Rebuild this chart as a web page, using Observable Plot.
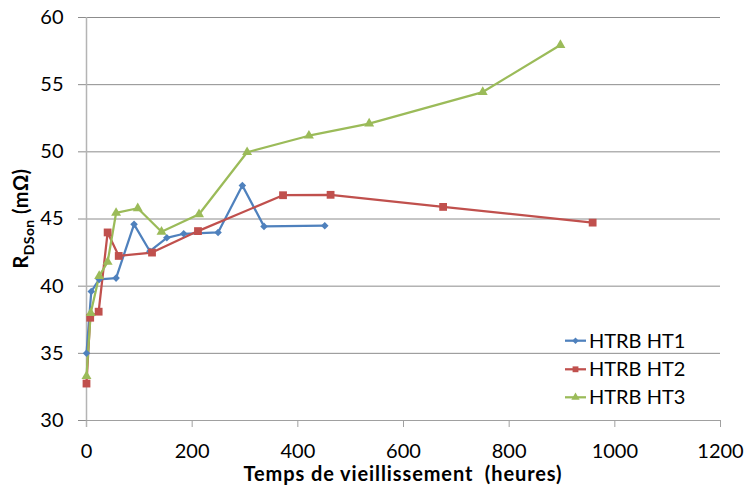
<!DOCTYPE html>
<html>
<head>
<meta charset="utf-8">
<script src="https://cdn.jsdelivr.net/npm/d3@7"></script>
<script src="https://cdn.jsdelivr.net/npm/@observablehq/plot@0.6"></script>
<style>
  html, body { margin: 0; padding: 0; background: #fff; }
  #chart { width: 744px; height: 487px; }
</style>
</head>
<body>
<div id="chart"></div>
<script>
// ---- data ----
const seriesNames = ["HTRB HT1", "HTRB HT2", "HTRB HT3"];
const seriesColors = ["#4F81BD", "#C0504D", "#9BBB59"];
const seriesSymbols = ["diamond2", "square", "triangle"];
const seriesR = [3.4, 4.4, 3.7];

const hoursHT1 = [0, 9, 24, 56, 90, 120, 152, 184, 249, 295, 336, 451];
const rdsonHT1 = [35.0, 39.6, 40.5, 40.6, 44.6, 42.6, 43.6, 43.9, 44.0, 47.5, 44.45, 44.5];

const hoursHT2 = [0, 7, 23, 40, 61, 124, 211, 372, 462, 675, 958];
const rdsonHT2 = [32.75, 37.65, 38.1, 44.0, 42.25, 42.5, 44.1, 46.77, 46.8, 45.9, 44.73];

const hoursHT3 = [0, 8, 24, 40, 56, 97, 142, 213, 304, 421, 535, 750, 897];
const rdsonHT3 = [33.3, 38.0, 40.75, 41.8, 45.45, 45.8, 44.05, 45.35, 49.97, 51.2, 52.1, 54.45, 57.95];

const xTicks = [0, 200, 400, 600, 800, 1000, 1200];
const yTicks = [30, 35, 40, 45, 50, 55, 60];
const xTitle = "Temps de vieillissement\u00a0 (heures)";
const yTitleMain = "R";
const yTitleSub = "DSon";
const yTitleUnit = " (m\u03A9)";

// ---- build table ----
const hoursAll = [hoursHT1, hoursHT2, hoursHT3];
const rdsonAll = [rdsonHT1, rdsonHT2, rdsonHT3];
const rows = [];
seriesNames.forEach((s, i) => {
  hoursAll[i].forEach((h, j) => rows.push({series: s, h, r: rdsonAll[i][j]}));
});

const W = 744, H = 487;
const mL = 86, mR = 24, mT = 17, mB = 67;
const FONT = "Lato, 'Open Sans', sans-serif";

const dotMarks = seriesNames.map((s, i) =>
  Plot.dot(rows.filter(d => d.series === s), {
    x: "h", y: "r", symbol: () => seriesSymbols[i], r: seriesR[i],
    fill: seriesColors[i], stroke: "none"
  })
);

const chart = Plot.plot({
  width: W, height: H,
  marginLeft: mL, marginRight: mR, marginTop: mT, marginBottom: mB,
  x: {domain: [0, 1200]},
  y: {domain: [30, 60]},
  color: {domain: seriesNames, range: seriesColors},
  symbol: {domain: seriesNames, range: seriesSymbols},
  style: {fontFamily: FONT, fontSize: "20px", color: "#000", background: "#fff", overflow: "visible"},
  marks: [
    Plot.gridY(yTicks, {stroke: "#8c8c8c", strokeOpacity: 1, strokeWidth: 1}),
    Plot.axisY(yTicks, {tickSize: 8, tickPadding: 15, stroke: "#8c8c8c", strokeOpacity: 1, label: null, fill: "#000", fontSize: 20, tickFormat: d => String(d)}),
    Plot.axisX(xTicks, {tickSize: 7, tickPadding: 16, stroke: "#a0a0a0", strokeOpacity: 1, label: null, fill: "#000", fontSize: 20, tickFormat: d => String(d)}),
    Plot.ruleX([0], {stroke: "#b4b4b4", strokeWidth: 1.5, insetBottom: -7}),
    Plot.ruleY([30], {stroke: "#a0a0a0", strokeWidth: 1}),
    Plot.line(rows, {x: "h", y: "r", z: "series", stroke: "series", strokeWidth: 2.25, curve: "linear"}),
    ...dotMarks
  ]
});

document.getElementById("chart").appendChild(chart);

// ---- titles and legend added to the same SVG ----
const svg = d3.select(chart);

// y-axis title with subscript
const yt = svg.append("text")
  .attr("transform", `translate(28,${(mT + (H - mB)) / 2}) rotate(-90)`)
  .attr("text-anchor", "middle")
  .attr("font-family", FONT)
  .attr("font-weight", "bold")
  .attr("font-size", 20)
  .attr("letter-spacing", 0.4)
  .attr("fill", "#000");
yt.append("tspan").text(yTitleMain);
yt.append("tspan").attr("font-size", 14).attr("dy", 6).text(yTitleSub);
yt.append("tspan").attr("dy", -6).text(yTitleUnit);

// x-axis title
svg.append("text")
  .attr("x", (mL + (W - mR)) / 2)
  .attr("y", 481)
  .attr("text-anchor", "middle")
  .attr("font-family", FONT)
  .attr("font-weight", "bold")
  .attr("font-size", 20)
  .attr("letter-spacing", 0.9)
  .attr("fill", "#000")
  .style("white-space", "pre")
  .text(xTitle);

// legend
const legendY = [340.7, 369.3, 397.3];
const lg = svg.append("g");
seriesNames.forEach((s, i) => {
  const g = lg.append("g").attr("transform", `translate(565,${legendY[i]})`);
  g.append("line").attr("x1", 0).attr("x2", 21).attr("y1", 0).attr("y2", 0)
    .attr("stroke", seriesColors[i]).attr("stroke-width", 2.25);
  const symType = [d3.symbolDiamond2, d3.symbolSquare, d3.symbolTriangle][i];
  const symSize = [26, 34, 30][i];
  g.append("path").attr("transform", "translate(10.5,0)")
    .attr("d", d3.symbol(symType, symSize)())
    .attr("fill", seriesColors[i]);
  g.append("text").attr("x", 24).attr("y", 0).attr("dy", "0.35em")
    .attr("text-anchor", "start")
    .attr("font-family", FONT)
    .attr("font-size", 20).attr("fill", "#000").text(s);
});
</script>
</body>
</html>
